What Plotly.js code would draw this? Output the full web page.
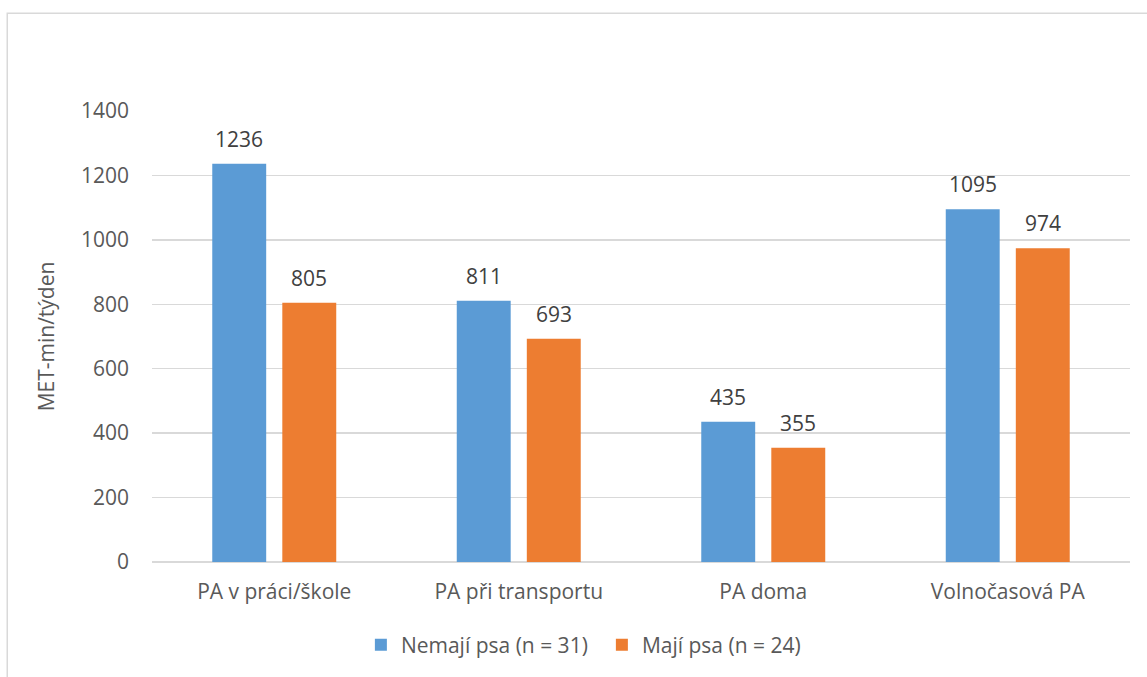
<!DOCTYPE html>
<html>
<head>
<meta charset="utf-8">
<script src="https://cdn.plot.ly/plotly-3.0.1.min.js"></script>
<style>
  html, body { margin: 0; padding: 0; background: #fff; }
  #chart { width: 1147px; height: 677px; }
</style>
</head>
<body>
<div id="chart"></div>
<script>
// Weekly physical activity (MET-min/týden) by domain, dog owners vs. non-owners
const categories = ['PA v práci/škole', 'PA při transportu', 'PA doma', 'Volnočasová PA'];
const seriesNames = ['Nemají psa (n = 31)', 'Mají psa (n = 24)'];
const noDog = [1236, 811, 435, 1095];
const withDog = [805, 693, 355, 974];
const yTicks = [0, 200, 400, 600, 800, 1000, 1200, 1400];

const colors = ['#5B9BD5', '#ED7D31'];
const font = 'Open Sans, Noto Sans, sans-serif';
const textColor = '#595959';
const fs = 21;

const traces = [noDog, withDog].map((vals, i) => ({
  type: 'bar',
  name: seriesNames[i],
  x: categories,
  y: vals,
  marker: { color: colors[i] },
  hoverinfo: 'x+y'
}));

// value labels above each bar
const offsets = [-35, 35];
const annotations = [];
[noDog, withDog].forEach((vals, i) => {
  vals.forEach((v, j) => {
    annotations.push({
      x: categories[j], y: v, xref: 'x', yref: 'y',
      text: String(v), showarrow: false,
      xshift: offsets[i], yanchor: 'bottom', yshift: 9,
      font: { family: font, size: fs, color: '#404040' }
    });
  });
});

const layout = {
  width: 1147, height: 677,
  margin: { l: 152, r: 17, t: 111, b: 115 },
  paper_bgcolor: '#fff', plot_bgcolor: '#fff',
  font: { family: font, size: fs, color: textColor },
  barmode: 'group',
  bargap: 0.427,
  bargroupgap: 0.23,
  showlegend: true,
  legend: {
    orientation: 'h', x: 0.46, xanchor: 'center', y: -0.184, yanchor: 'middle',
    font: { family: font, size: fs, color: textColor },
    itemwidth: 30, traceorder: 'normal',
    entrywidth: 196, entrywidthmode: 'pixels'
  },
  xaxis: {
    type: 'category', showgrid: false, zeroline: false,
    showline: false, ticks: '', ticklabelstandoff: 15,
    tickfont: { family: font, size: fs, color: textColor },
    automargin: false
  },
  yaxis: {
    range: [0, 1400], tickvals: yTicks, ticktext: yTicks.map(String),
    showgrid: true, gridcolor: '#d9d9d9', gridwidth: 1.5,
    zeroline: true, zerolinecolor: '#d9d9d9', zerolinewidth: 1.5,
    showline: false, ticks: '', ticklabelstandoff: 22,
    tickfont: { family: font, size: fs, color: textColor },
    title: { text: 'MET-min/týden', standoff: 20, font: { family: font, size: fs, color: textColor } },
    automargin: false
  },
  annotations: annotations,
  shapes: [{
    type: 'rect', xref: 'paper', yref: 'paper',
    x0: -0.148, x1: 1.2, y0: -0.6, y1: 1.217,
    line: { color: '#d9d9d9', width: 1.5 }, fillcolor: 'rgba(0,0,0,0)', layer: 'below'
  }]
};

Plotly.newPlot('chart', traces, layout, { displayModeBar: false, staticPlot: true });
</script>
</body>
</html>
